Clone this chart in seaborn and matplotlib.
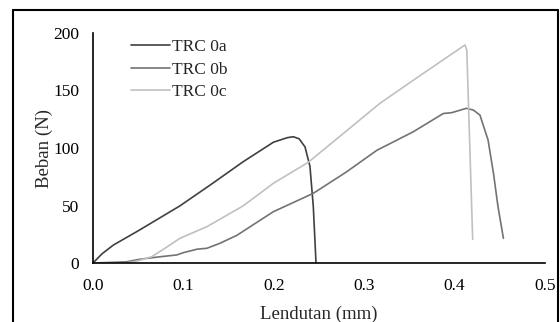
import matplotlib
matplotlib.use("Agg")
import matplotlib.pyplot as plt
import seaborn as sns
import pandas as pd
from matplotlib.lines import Line2D

# Data
trc0a_x = [0, 0.01, 0.0225, 0.05, 0.096, 0.13, 0.166, 0.1995, 0.215, 0.2216, 0.228, 0.2345, 0.240, 0.2437, 0.2467]
trc0a_y = [0, 8, 15.6, 28, 49.6, 68, 88, 105, 109, 109.8, 108, 101, 84, 49, 0]

trc0b_x = [0, 0.037, 0.05, 0.059, 0.075, 0.0926, 0.10, 0.115, 0.126, 0.14, 0.159, 0.1995, 0.2437,
           0.28, 0.314, 0.354, 0.3875, 0.3967, 0.413, 0.4207, 0.428, 0.437, 0.443, 0.448, 0.454]
trc0b_y = [0, 1, 3, 4, 5.5, 7, 9, 12, 12.8, 17, 24, 44.6, 60.6,
           79, 98, 114, 130, 130.7, 134.5, 133, 128.7, 107, 78, 49, 21.5]

trc0c_x = [0, 0.037, 0.05, 0.065, 0.08, 0.096, 0.126, 0.166, 0.1995, 0.238, 0.2775, 0.3175, 0.36, 0.4115, 0.4135, 0.420]
trc0c_y = [0, 0, 2, 5.5, 13, 21.4, 31.6, 49.6, 69.3, 87.5, 113, 138.9, 162, 189.6, 185, 20.6]

series_names = ["TRC 0a", "TRC 0b", "TRC 0c"]
series_colors = ["#404040", "#737373", "#c0c0c0"]
x_ticks = [0.0, 0.1, 0.2, 0.3, 0.4, 0.5]
y_ticks = [0, 50, 100, 150, 200]

frames = []
for name, xs, ys in zip(series_names, [trc0a_x, trc0b_x, trc0c_x], [trc0a_y, trc0b_y, trc0c_y]):
    frames.append(pd.DataFrame({"x": xs, "y": ys, "series": name, "order": range(len(xs))}))
df = pd.concat(frames, ignore_index=True)

sns.set_theme(style="white")
plt.rcParams["font.family"] = ["Liberation Serif", "DejaVu Serif"]

fig = plt.figure(figsize=(5.6, 3.22), dpi=100)
ax = fig.add_axes([93/560, 1 - 263/322, (545 - 93)/560, (263 - 33)/322])

sns.lineplot(data=df, x="x", y="y", hue="series", hue_order=series_names,
             palette=series_colors, sort=False, estimator=None, units="series",
             linewidth=1.2, ax=ax, legend=False)

ax.set_xlim(0, 0.5)
ax.set_ylim(0, 200)
ax.set_xticks(x_ticks)
ax.set_xticklabels([f"{t:.1f}" for t in x_ticks])
ax.set_yticks(y_ticks)
ax.set_yticklabels([str(t) for t in y_ticks])
ax.tick_params(axis="both", direction="in", length=4, width=1.2, colors="black",
               labelsize=12.5)
ax.tick_params(axis="x", pad=11)
ax.tick_params(axis="y", pad=10)
for s in ["top", "right"]:
    ax.spines[s].set_visible(False)
for s in ["left", "bottom"]:
    ax.spines[s].set_color("black")
    ax.spines[s].set_linewidth(1.2)
ax.set_xlabel("Lendutan (mm)", fontsize=13.5, labelpad=8)
ax.set_ylabel("Beban (N)", fontsize=13.5, labelpad=0)

handles = [Line2D([0], [0], color=c, lw=1.2) for c in series_colors]
ax.legend(handles, series_names, loc="upper left", bbox_to_anchor=(0.085, 0.975),
          frameon=False, fontsize=12.5, handlelength=2.2, handletextpad=0.15,
          labelspacing=0.38, borderaxespad=0, borderpad=0)

# outer frame (left, top, right) of the figure
fx0, fx1, fy1 = 13/560, 558/560, 1 - 10/322
for xs_, ys_ in [([fx0, fx0], [0, fy1]), ([fx0, fx1], [fy1, fy1]), ([fx1, fx1], [fy1, 0])]:
    fig.add_artist(Line2D(xs_, ys_, transform=fig.transFigure, color="black", lw=1.5))

fig.savefig("out.png", dpi=100)
